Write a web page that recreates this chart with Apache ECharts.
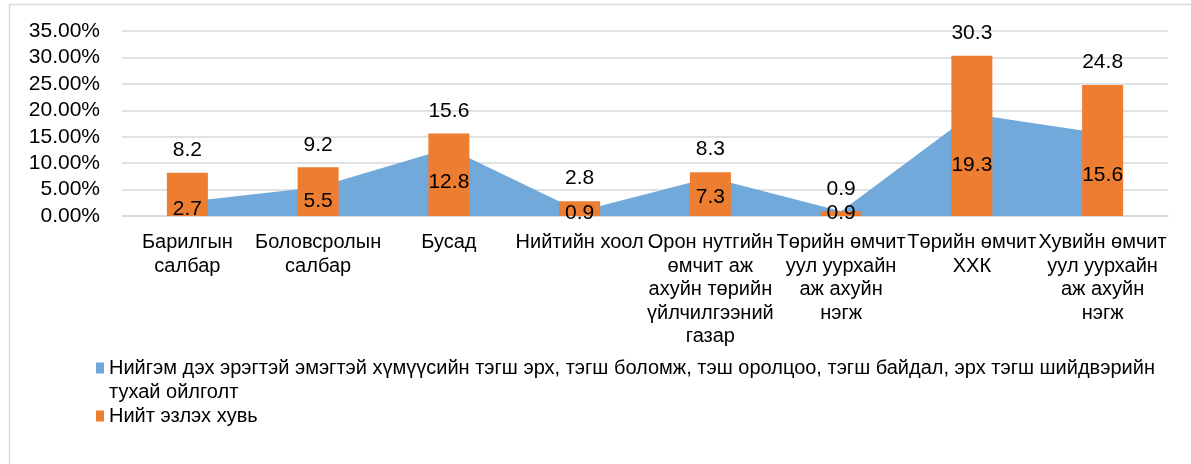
<!DOCTYPE html>
<html>
<head>
<meta charset="utf-8">
<script src="https://cdn.jsdelivr.net/npm/echarts@6/dist/echarts.min.js"></script>
<style>
html,body{margin:0;padding:0;background:#fff;}
#chart{width:1191px;height:464px;}
</style>
</head>
<body>
<div id="chart"></div>
<script>
const categories = [
  'Барилгын\nсалбар',
  'Боловсролын\nсалбар',
  'Бусад',
  'Нийтийн хоол',
  'Орон нутгийн\nөмчит аж\nахуйн төрийн\nүйлчилгээний\nгазар',
  'Төрийн өмчит\nуул уурхайн\nаж ахуйн\nнэгж',
  'Төрийн өмчит\nХХК',
  'Хувийн өмчит\nуул уурхайн\nаж ахуйн\nнэгж'
];
const seriesNames = [
  'Нийгэм дэх эрэгтэй эмэгтэй хүмүүсийн тэгш эрх, тэгш боломж, тэш оролцоо, тэгш байдал, эрх тэгш шийдвэрийн тухай ойлголт',
  'Нийт эзлэх хувь'
];
const understanding = [2.7, 5.5, 12.8, 0.9, 7.3, 0.9, 19.3, 15.6];
const totalShare = [8.2, 9.2, 15.6, 2.8, 8.3, 0.9, 30.3, 24.8];
const yTicks = { min: 0, max: 35, interval: 5 };

const FONT = "'Liberation Sans', Arial, sans-serif";
const chart = echarts.init(document.getElementById('chart'), null, {renderer: 'canvas'});
chart.setOption({
  animation: false,
  backgroundColor: '#ffffff',
  textStyle: { fontFamily: FONT },
  graphic: [{
    type: 'rect', silent: true, z: -10,
    shape: { x: 9.5, y: 4.5, width: 1300, height: 600 },
    style: { fill: 'none', stroke: '#d9d9d9', lineWidth: 1.5 }
  }],
  grid: { left: 122, right: 23, top: 31, bottom: 248 },
  legend: [{
    data: [seriesNames[0]],
    orient: 'vertical', left: 91, top: 327,
    itemWidth: 8, itemHeight: 11, itemGap: 4,
    icon: 'rect',
    formatter: function (n) {
      const i = n.indexOf(' тухай');
      return '{t|' + n.slice(0, i) + '}\n{t|' + n.slice(i + 1) + '}';
    },
    textStyle: {
      fontFamily: FONT, fontSize: 20, color: '#000', lineHeight: 24,
      padding: [24, 0, 0, 0],
      rich: { t: { fontFamily: FONT, fontSize: 20, color: '#000', lineHeight: 24 } }
    }
  }, {
    data: [seriesNames[1]],
    orient: 'vertical', left: 91, top: 399,
    itemWidth: 8, itemHeight: 11, itemGap: 4,
    icon: 'rect',
    textStyle: { fontFamily: FONT, fontSize: 20, color: '#000', lineHeight: 24 }
  }],
  xAxis: {
    type: 'category',
    data: categories,
    boundaryGap: true,
    axisLine: { show: true, lineStyle: { color: '#d9d9d9', width: 1.5 } },
    axisTick: { show: false },
    axisLabel: {
      interval: 0, margin: 15, fontSize: 20, lineHeight: 23.5, color: '#000',
      fontFamily: FONT, align: 'center'
    }
  },
  yAxis: {
    type: 'value',
    min: yTicks.min, max: yTicks.max, interval: yTicks.interval,
    axisLine: { show: false },
    axisTick: { show: false },
    splitLine: { lineStyle: { color: '#d9d9d9', width: 1.5 } },
    axisLabel: {
      margin: 22, fontSize: 21, color: '#000', fontFamily: FONT,
      formatter: function (v) { return v.toFixed(2) + '%'; }
    }
  },
  series: [{
    name: seriesNames[0],
    type: 'line',
    data: understanding,
    showSymbol: false,
    symbol: 'none',
    lineStyle: { width: 0 },
    itemStyle: { color: '#72a9db' },
    areaStyle: { color: '#72a9db', opacity: 1 },
    z: 1
  }, {
    name: seriesNames[1],
    type: 'bar',
    data: totalShare,
    barWidth: 41,
    itemStyle: { color: '#ed7d31' },
    label: {
      show: true, position: 'top', distance: 12,
      fontSize: 21, color: '#000', fontFamily: FONT,
      formatter: function (p) { return p.value.toFixed(1); }
    },
    z: 2
  }, {
    name: 'areaLabels',
    type: 'bar',
    data: understanding,
    barWidth: 41,
    barGap: '-100%',
    itemStyle: { color: 'rgba(0,0,0,0)' },
    label: {
      show: true, position: 'inside',
      fontSize: 21, color: '#000', fontFamily: FONT,
      formatter: function (p) { return p.value.toFixed(1); }
    },
    tooltip: { show: false },
    z: 3
  }]
});
</script>
</body>
</html>
